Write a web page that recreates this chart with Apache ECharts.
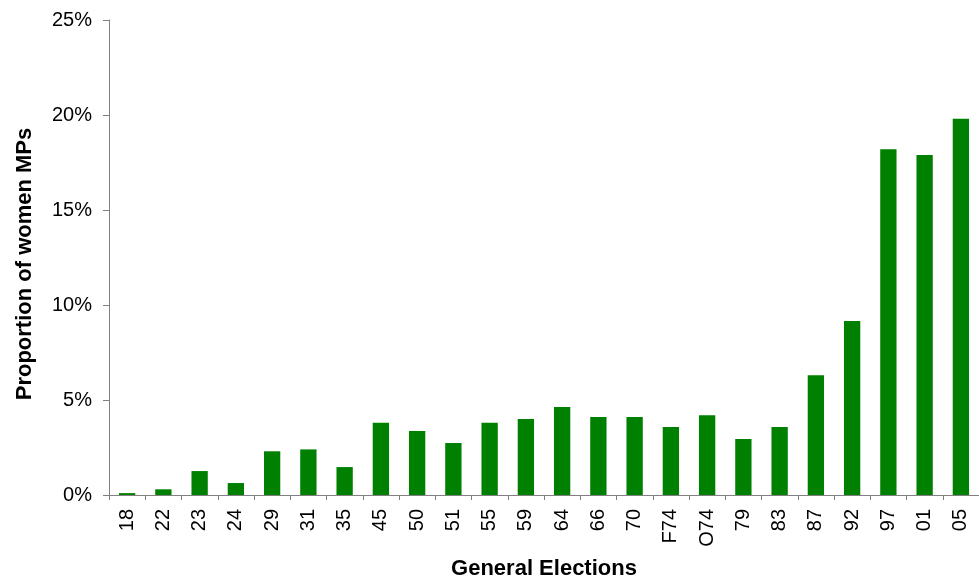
<!DOCTYPE html>
<html>
<head>
<meta charset="utf-8">
<script src="https://cdn.jsdelivr.net/npm/echarts@6/dist/echarts.min.js"></script>
<style>
html,body{margin:0;padding:0;background:#fff;}
#chart{width:979px;height:586px;}
</style>
</head>
<body>
<div id="chart"></div>
<script>
const categories = ['18','22','23','24','29','31','35','45','50','51','55','59','64','66','70','F74','O74','79','83','87','92','97','01','05'];
const womenMPsPct = [0.1,0.3,1.26,0.63,2.3,2.4,1.47,3.8,3.37,2.74,3.8,4.0,4.63,4.1,4.1,3.58,4.2,2.95,3.58,6.3,9.16,18.2,17.9,19.8];
const yTicks = {min: 0, max: 25, interval: 5};

const FONT = '"Liberation Sans", Arial, sans-serif';
const chart = echarts.init(document.getElementById('chart'), null, {renderer: 'canvas'});
chart.setOption({
  animation: false,
  backgroundColor: '#ffffff',
  grid: {left: 109, right: -7, top: 20, bottom: 91, containLabel: false},
  xAxis: {
    type: 'category',
    data: categories,
    name: 'General Elections',
    nameLocation: 'middle',
    nameGap: 63,
    nameTextStyle: {fontFamily: FONT, fontSize: 22, fontWeight: 'bold', color: '#000'},
    axisLine: {lineStyle: {color: '#808080', width: 1}},
    axisTick: {show: true, length: 5, lineStyle: {color: '#808080'}},
    axisLabel: {rotate: 90, margin: 14, fontFamily: FONT, fontSize: 20, color: '#000', interval: 0},
    splitLine: {show: false}
  },
  yAxis: {
    type: 'value',
    min: yTicks.min, max: yTicks.max, interval: yTicks.interval,
    name: 'Proportion of women MPs',
    nameLocation: 'middle',
    nameGap: 73,
    nameRotate: 90,
    nameTextStyle: {fontFamily: FONT, fontSize: 22, fontWeight: 'bold', color: '#000', padding: [0, 13, 0, 0]},
    axisLine: {show: true, lineStyle: {color: '#808080', width: 1}},
    axisTick: {show: true, length: 6, lineStyle: {color: '#808080'}},
    axisLabel: {formatter: '{value}%', margin: 17, fontFamily: FONT, fontSize: 20, color: '#000'},
    splitLine: {show: false}
  },
  series: [{
    type: 'bar',
    data: womenMPsPct,
    barWidth: '45%',
    itemStyle: {color: '#008000'}
  }]
});
</script>
</body>
</html>
